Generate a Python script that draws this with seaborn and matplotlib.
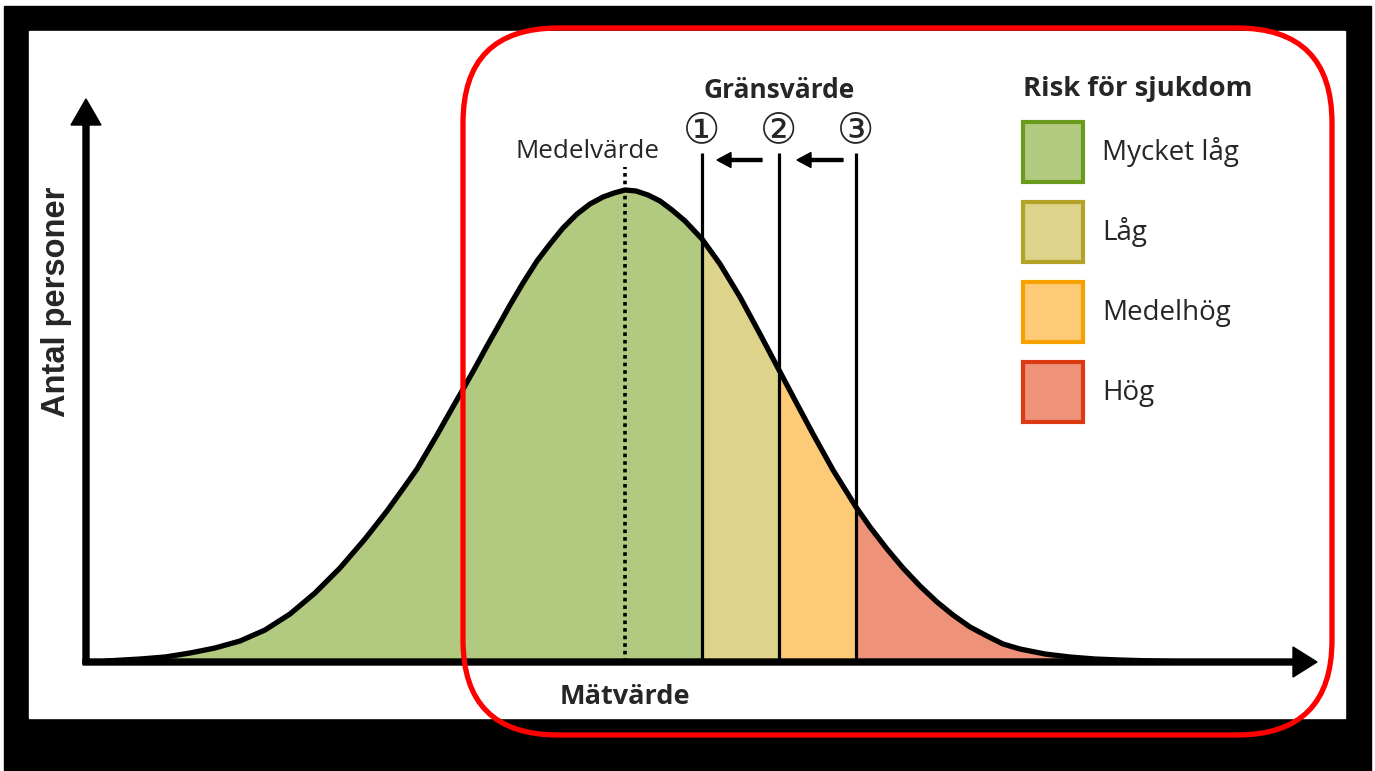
import numpy as np
import pandas as pd
import matplotlib
matplotlib.use("Agg")
import matplotlib.pyplot as plt
import seaborn as sns
from matplotlib.patches import Patch, Rectangle, FancyBboxPatch

# kurvan (x = mätvärde, y = antal personer)
matvarde = [20, 54, 79, 104, 129, 154, 179, 204, 229, 254,
            279, 301, 319, 331, 351, 364, 376, 389, 401, 414,
            424, 437, 451, 464, 477, 491, 504, 517, 528, 539,
            550, 562, 574, 586, 599, 616, 634, 654, 674, 693,
            711, 727, 747, 770, 784, 801, 817, 834, 851, 867,
            884, 901, 917, 934, 959, 984, 1009, 1034, 1084]
antal = [1, 3, 5, 9, 14, 21, 32, 48, 69, 94,
         123, 151, 176, 193, 227, 250, 271, 294, 316, 339,
         357, 379, 401, 418, 434, 448, 458, 465, 469, 472,
         471, 467, 461, 452, 441, 423, 398, 365, 328, 292,
         258, 228, 192, 155, 135, 113, 94, 76, 60, 47,
         35, 26, 18, 13, 8, 5, 3, 2, 0.5]

medelvarde = 539
gransvarden = [616, 693, 770]
gransnamn = ["①", "②", "③"]

riskniva = ["Mycket låg", "Låg", "Medelhög", "Hög"]
fyllfarg = ["#b1ca7f", "#ddd38b", "#fdcb78", "#ee9279"]
kantfarg = ["#6b9b1e", "#b3a327", "#f7a100", "#dc3a12"]

sns.set_theme(style="white")
plt.rcParams["font.family"] = ["Open Sans", "DejaVu Sans"]

df = pd.DataFrame({"Mätvärde": matvarde, "Antal": antal})

fig = plt.figure(figsize=(13.75, 7.71), dpi=100)
ax = fig.add_axes([0, 0, 1, 1])

# svart ram runt bilden
ax.add_patch(Rectangle((-82, -109), 1367, 765, color="black", zorder=0))
ax.add_patch(Rectangle((-57, -56), 1316, 687, color="white", zorder=0.5))

# fyllning per riskzon
x = df["Mätvärde"].to_numpy()
y = df["Antal"].to_numpy()
granser = [-np.inf] + gransvarden + [np.inf]
for i in range(len(riskniva)):
    mask = (x >= granser[i]) & (x <= granser[i + 1])
    ax.fill_between(x[mask], 0, y[mask], color=fyllfarg[i], lw=0, zorder=1)

# gränsvärden och medelvärde
ax.vlines(gransvarden, 0, 509, color="black", lw=2.3, zorder=3)
ax.vlines(medelvarde, 0, 495, color="black", lw=2.6, linestyles=(0, (1, 1.1)), zorder=3)

# kurvan
sns.lineplot(data=df, x="Mätvärde", y="Antal", color="black", lw=3.8, ax=ax,
             zorder=4, solid_joinstyle="round", solid_capstyle="round")

# axlar med pilar
ax.arrow(0, -2, 0, 565, width=6, head_width=30, head_length=26,
         length_includes_head=True, fc="black", ec="black", zorder=5)
ax.arrow(-3, 0, 1234, 0, width=6, head_width=30, head_length=24,
         length_includes_head=True, fc="black", ec="black", zorder=5)

# pilar mellan gränsvärdena
for start, slut in [(676, 631), (757, 711)]:
    ax.arrow(start, 502, slut - start, 0, width=3, head_width=15, head_length=14,
             length_includes_head=True, fc="black", ec="black", zorder=5)

# texter
ax.text(693, 572, "Gränsvärde", ha="center", va="center", fontsize=19, fontweight="bold")
for g, namn in zip(gransvarden, gransnamn):
    ax.text(g, 532, namn, ha="center", va="center", fontsize=30, family="DejaVu Sans")
ax.text(502, 510, "Medelvärde", ha="center", va="center", fontsize=18.7)
ax.text(539, -35, "Mätvärde", ha="center", va="center", fontsize=19.5, fontweight="bold")
ax.text(-29, 360, "Antal personer", ha="center", va="center", rotation=90,
        fontsize=23.5, fontweight="bold", family="Liberation Sans")

# legend (rutor 60 px, 80 px mellan raderna)
fs = 20
handles = [Patch(facecolor=f, edgecolor=k, lw=3) for f, k in zip(fyllfarg, kantfarg)]
leg = ax.legend(handles, riskniva, title="Risk för sjukdom", loc="upper left",
                bbox_to_anchor=(1023 / 1375, 1 - 76 / 771), bbox_transform=fig.transFigure,
                frameon=False, fontsize=fs, handlelength=43.2 / fs, handleheight=2.946,
                labelspacing=14.4 / fs, handletextpad=13.7 / fs, borderpad=0, borderaxespad=0,
                alignment="left", title_fontproperties={"weight": "bold", "size": 19.7})

# röd markering
ax.add_patch(FancyBboxPatch((377, -73), 869, 707, boxstyle="round,pad=0,rounding_size=95",
                            fill=False, ec="red", lw=3.8, zorder=10))

ax.set_xlim(-86, 1289)
ax.set_ylim(-109, 662)
ax.axis("off")

fig.savefig("out.png", dpi=100)
